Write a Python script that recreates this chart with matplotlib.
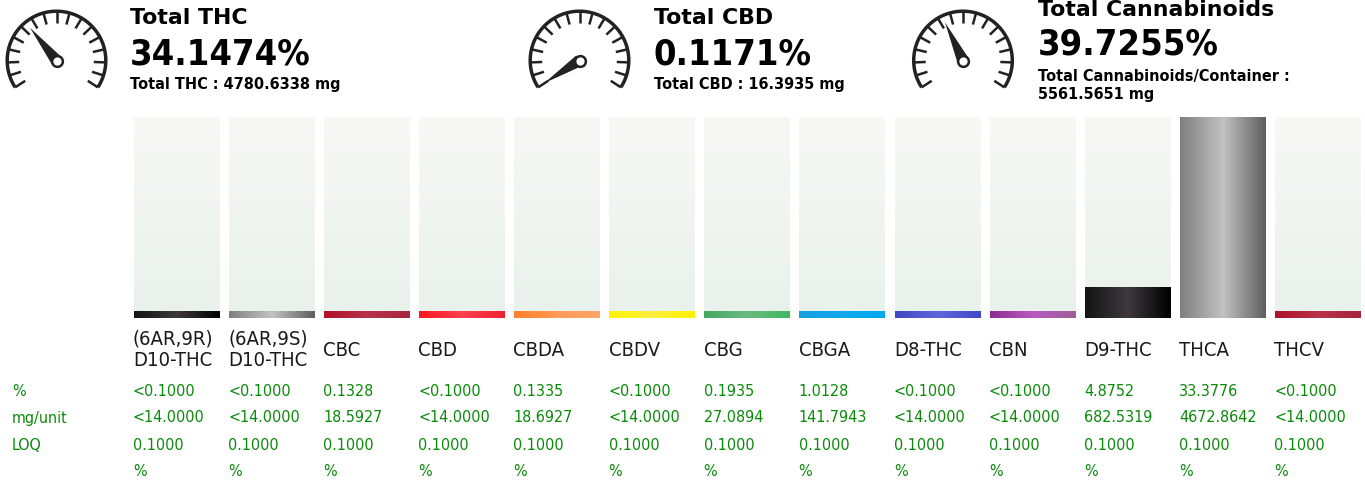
import numpy as np
import matplotlib
matplotlib.use("Agg")
import matplotlib.pyplot as plt
from matplotlib.colors import LinearSegmentedColormap, to_rgb

names = ["(6AR,9R)\nD10-THC", "(6AR,9S)\nD10-THC", "CBC", "CBD", "CBDA", "CBDV", "CBG",
         "CBGA", "D8-THC", "CBN", "D9-THC", "THCA", "THCV"]
percent = [0.1, 0.1, 0.1328, 0.1, 0.1335, 0.1, 0.1935, 1.0128, 0.1, 0.1, 4.8752, 33.3776, 0.1]
percent_labels = ["<0.1000", "<0.1000", "0.1328", "<0.1000", "0.1335", "<0.1000", "0.1935",
                  "1.0128", "<0.1000", "<0.1000", "4.8752", "33.3776", "<0.1000"]
mg_labels = ["<14.0000", "<14.0000", "18.5927", "<14.0000", "18.6927", "<14.0000", "27.0894",
             "141.7943", "<14.0000", "<14.0000", "682.5319", "4672.8642", "<14.0000"]
loq_labels = ["0.1000"] * 13
unit_labels = ["%"] * 13
row_names = ["%", "mg/unit", "LOQ"]
bar_colors = [("#141414", "#3d393d", "#000000"), ("#7f7f7f", "#c2c2c2", "#5e5e5e"),
              ("#b0102a", "#b8324a", "#a6263c"), ("#ff1420", "#ff4250", "#ee2030"),
              ("#ff8028", "#ff9a58", "#ffa468"), ("#fff200", "#fbf040", "#fff000"),
              ("#45a860", "#6cba80", "#40b860"), ("#18a0e0", "#10a8ec", "#00a8f0"),
              ("#3f47c4", "#5f68d8", "#4048c8"), ("#8c2c90", "#bb58c0", "#9c6098"),
              ("#141414", "#3d393d", "#000000"), ("#7f7f7f", "#c2c2c2", "#5e5e5e"),
              ("#b0102a", "#b8324a", "#a6263c")]

gauge_names = ["Total THC", "Total CBD", "Total Cannabinoids"]
gauge_values = [34.1474, 0.1171, 39.7255]
gauge_value_labels = ["34.1474%", "0.1171%", "39.7255%"]
gauge_subs = ["Total THC : 4780.6338 mg", "Total CBD : 16.3935 mg",
              "Total Cannabinoids/Container :\n5561.5651 mg"]

W, H = 1365, 484
DARK = "#222222"
GREEN = "#0a8a0a"

fig = plt.figure(figsize=(W / 100, H / 100), dpi=100)
fig.patch.set_facecolor("white")


def hgrad(cols):
    rgb = [to_rgb(c) for c in cols]
    return LinearSegmentedColormap.from_list("g", rgb)


# bars
ax = fig.add_axes([133.6 / W, 1 - 318 / H, 1227.4 / W, 201 / H])
ax.axis("off")
bg = LinearSegmentedColormap.from_list("bg", ["#f8f8f7", "#e9f1ec"])
grad = np.linspace(0, 1, 256).reshape(1, -1)
floor_h = 1.1
for i, v in enumerate(percent):
    ax.imshow(np.linspace(0, 1, 256).reshape(-1, 1), extent=[i - 0.452, i + 0.452, 0, 32],
              cmap=bg, aspect="auto", zorder=1)
    ax.imshow(grad, extent=[i - 0.452, i + 0.452, 0, max(v, floor_h)],
              cmap=hgrad(bar_colors[i]), aspect="auto", zorder=2)
ax.set_xlim(-0.452, 12.452)
ax.set_ylim(0, 32)

# pixel overlay for text and gauges
ov = fig.add_axes([0, 0, 1, 1])
ov.set_xlim(0, W)
ov.set_ylim(H, 0)
ov.axis("off")
ov.patch.set_alpha(0)

for i in range(13):
    x = 133 + i * 95.1
    ov.text(x, 350, names[i], fontsize=14.6, fontstretch="condensed", color="#1a1a1a", va="center", linespacing=1.2)
    ov.text(x, 392, percent_labels[i], fontsize=11.5, fontstretch="condensed", color=GREEN, va="center")
    ov.text(x, 418, mg_labels[i], fontsize=11.5, fontstretch="condensed", color=GREEN, va="center")
    ov.text(x, 445, loq_labels[i], fontsize=11.5, fontstretch="condensed", color=GREEN, va="center")
    ov.text(x, 471, unit_labels[i], fontsize=11.5, fontstretch="condensed", color=GREEN, va="center")
for name, y in zip(row_names, [392, 418, 445]):
    ov.text(12, y, name, fontsize=11.5, fontstretch="condensed", color=GREEN, va="center")


def gauge(cx, cy, value):
    r = 49.3
    start, span = 213.0, 246.0
    t = np.radians(np.linspace(start, start - span, 200))
    ov.plot(cx + r * np.cos(t), cy - r * np.sin(t), color=DARK, lw=2.5, solid_capstyle="butt")
    for k in range(17):
        a = np.radians(start - span * k / 16)
        ov.plot([cx + r * np.cos(a), cx + (r - 12) * np.cos(a)],
                [cy - r * np.sin(a), cy - (r - 12) * np.sin(a)],
                color=DARK, lw=1.8, solid_capstyle="butt")
    a = np.radians(start - span * value / 100)
    ux, uy = np.cos(a), -np.sin(a)
    px, py = -uy, ux
    tip = (cx + 42 * ux, cy + 42 * uy)
    ov.fill([tip[0], cx + 6 * px, cx - 6 * px], [tip[1], cy + 6 * py, cy - 6 * py], color=DARK, lw=0)
    ov.scatter([cx], [cy], s=60, facecolor="white", edgecolor=DARK, linewidth=1.8, zorder=5)


for cx, cy, v in zip([56.5, 579.5, 963], [60.5, 60.5, 60.5], gauge_values):
    gauge(cx, cy, v)

xs = [130, 653.5, 1038]
title_y = [18.5, 18.5, 9.5]
val_y = [54.5, 54.5, 44.5]
sub_y = [85, 85, 85]
for i in range(3):
    ov.text(xs[i], title_y[i], gauge_names[i], fontsize=15.8, fontweight="bold", color="black", va="center")
    ov.text(xs[i], val_y[i], gauge_value_labels[i], fontsize=26, fontweight="bold", fontstretch="condensed", color="black", va="center")
    ov.text(xs[i], sub_y[i], gauge_subs[i], fontsize=10.45, fontweight="bold", color="black", va="center", linespacing=1.25)

fig.savefig("out.png", dpi=100)
